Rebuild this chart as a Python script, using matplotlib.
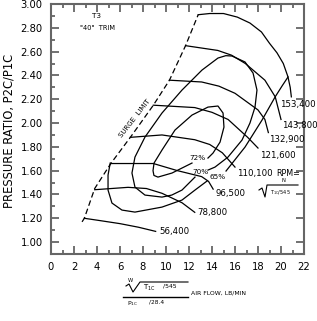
import matplotlib
matplotlib.use("Agg")
import matplotlib.pyplot as plt
import numpy as np

plt.rcParams['font.family'] = ['DejaVu Sans']

# ---------------- data ----------------
surge_x = [2.7, 2.9, 3.8, 5.2, 6.9, 8.9, 10.3, 11.7, 12.8]
surge_y = [1.17, 1.20, 1.45, 1.66, 1.88, 2.15, 2.36, 2.65, 2.91]

speed_labels = ["56,400", "78,800", "96,500", "110,100", "121,600",
                "132,900", "143,800", "153,400"]
speed_x = [
    [2.9, 4.3, 6.0, 7.6, 9.1],
    [3.8, 6.7, 8.3, 9.65, 11.4, 12.5],
    [5.2, 8.9, 11.0, 13.1, 13.7, 14.1],
    [6.9, 9.65, 12.5, 13.8, 14.9, 16.0],
    [8.9, 12.5, 14.0, 15.4, 17.1, 18.0],
    [10.3, 13.1, 14.6, 16.0, 18.0, 18.6, 18.9],
    [11.7, 14.5, 15.7, 16.9, 18.6, 19.5, 20.0],
    [12.8, 13.8, 15.0, 16.2, 17.3, 18.3, 19.0, 19.65, 20.2, 20.6, 20.8, 20.9],
]
speed_y = [
    [1.20, 1.18, 1.155, 1.125, 1.09],
    [1.44, 1.46, 1.45, 1.41, 1.33, 1.25],
    [1.66, 1.66, 1.60, 1.55, 1.51, 1.445],
    [1.88, 1.90, 1.86, 1.82, 1.75, 1.63],
    [2.15, 2.13, 2.09, 2.03, 1.88, 1.79],
    [2.36, 2.345, 2.31, 2.25, 2.11, 2.03, 1.92],
    [2.65, 2.61, 2.57, 2.50, 2.36, 2.22, 2.03],
    [2.91, 2.92, 2.92, 2.89, 2.84, 2.765, 2.67, 2.59, 2.50, 2.39, 2.30, 2.22],
]
speed_label_x = [9.4, 12.7, 14.3, 16.2, 18.2, 18.95, 20.1, 19.95]
speed_label_y = [1.09, 1.245, 1.41, 1.58, 1.73, 1.865, 1.98, 2.16]

eff_labels = ["72%", "70%", "65%"]
eff72_x = [12.26, 10.52, 9.30, 8.95, 8.87, 8.96, 9.65, 10.78, 12.26, 13.65, 14.52,
           14.96, 15.04, 14.70, 14.09, 13.65]
eff72_y = [1.664, 1.580, 1.546, 1.560, 1.600, 1.664, 1.773, 1.941, 2.067, 2.134, 2.143,
           2.084, 1.966, 1.840, 1.748, 1.706]
eff70_x = [12.52, 11.39, 10.5, 9.65, 8.17, 7.30, 7.04, 7.30, 8.17, 9.65, 11.39, 13.13,
           14.52, 15.2, 15.74, 16.87, 17.57, 17.91, 17.74, 17.30, 16.61, 15.39, 14.26, 13.65]
eff70_y = [1.546, 1.437, 1.395, 1.378, 1.395, 1.462, 1.580, 1.714, 1.882, 2.084, 2.277, 2.445,
           2.546, 2.566, 2.563, 2.513, 2.420, 2.277, 2.134, 2.000, 1.857, 1.714, 1.630, 1.605]
eff65a_x = [5.15, 4.96, 4.96, 5.30, 6.17, 7.30, 9.65, 11.39, 12.52, 13.57]
eff65a_y = [1.664, 1.563, 1.437, 1.328, 1.269, 1.252, 1.294, 1.353, 1.437, 1.513]
eff65b_x = [15.22, 16.87, 18.35, 19.48, 20.09, 20.61]
eff65b_y = [1.597, 1.798, 2.025, 2.218, 2.311, 2.387]
eff_label_x = [12.7, 12.96, 14.45]
eff_label_y = [1.706, 1.588, 1.546]

x_ticks = list(range(0, 23, 2))
y_ticks = [1.00, 1.20, 1.40, 1.60, 1.80, 2.00, 2.20, 2.40, 2.60, 2.80, 3.00]

# ---------------- figure ----------------
W, H = 317, 321
fig = plt.figure(figsize=(W / 100, H / 100), dpi=100)
L, R, T, B = 51, 304, 4, 254
ax = fig.add_axes([L / W, 1 - B / H, (R - L) / W, (B - T) / H])
ax.set_xlim(0, 22)
ax.set_ylim(0.9, 3.0)

lc = 'black'
lw = 0.9
ax.plot(surge_x, surge_y, color=lc, lw=lw, ls=(0, (4.5, 2.5)))
for xs, ys in zip(speed_x, speed_y):
    ax.plot(xs, ys, color=lc, lw=lw, solid_joinstyle='round')
for lab, lx, ly in zip(speed_labels, speed_label_x, speed_label_y):
    ax.text(lx, ly, lab, fontsize=6.2, ha='left', va='center', clip_on=False)

for xs, ys in [(eff72_x, eff72_y), (eff70_x, eff70_y),
               (eff65a_x, eff65a_y), (eff65b_x, eff65b_y)]:
    ax.plot(xs, ys, color=lc, lw=lw, solid_joinstyle='round')
for lab, lx, ly in zip(eff_labels, eff_label_x, eff_label_y):
    ax.text(lx, ly, lab, fontsize=5.2, ha='center', va='center')

# axes styling
sc = '#666666'
for s in ax.spines.values():
    s.set_color(sc)
    s.set_linewidth(1.5)
ax.set_xticks(x_ticks)
ax.set_xticks(np.arange(0, 23, 1), minor=True)
ax.set_yticks(y_ticks)
ax.set_yticks(np.arange(0.9, 3.01, 0.1), minor=True)
ax.set_xticklabels([str(v) for v in x_ticks])
ax.set_yticklabels([f"{v:.2f}" for v in y_ticks])
ax.tick_params(which='both', direction='in', top=True, right=True, color=sc,
               width=1.3, labelsize=7.2, labelcolor='black')
ax.tick_params(which='major', length=5.5, pad=6)
ax.tick_params(which='minor', length=3, right=False)

# ---------------- decorations in pixel space ----------------
ov = fig.add_axes([0, 0, 1, 1], facecolor='none')
ov.set_xlim(0, W)
ov.set_ylim(H, 0)
ov.axis('off')

ov.text(9, 131, "PRESSURE RATIO, P2C/P1C", rotation=90, ha='center', va='center',
        fontsize=8.3)
ov.text(97, 16, "T3", ha='center', va='center', fontsize=5.2)
ov.text(98, 28, '"40"  TRIM', ha='center', va='center', fontsize=4.8)
ov.text(135, 118, "SURGE  LIMIT", rotation=52, ha='center', va='center', fontsize=5.0)

# RPM = N / sqrt(T1C/545)
ov.text(276, 174, "RPM=", ha='left', va='center', fontsize=5.8)
ov.text(283, 180.5, "N", ha='center', va='center', fontsize=3.8)
ov.plot([259, 262, 265, 267, 298], [190, 188, 197, 185, 185], color='black', lw=0.8)
ov.text(270, 192.5, r"T$_{\mathregular{1C}}$/545", ha='left', va='center', fontsize=3.6)

# x label formula
ov.text(130, 280.5, "W", ha='center', va='center', fontsize=3.8)
ov.plot([126, 129, 133, 140, 188], [286, 284, 292, 282, 282], color='black', lw=0.8)
ov.text(143, 288, r"T$_{\mathregular{1C}}$", ha='left', va='center', fontsize=5.0)
ov.text(163, 286.5, "/545", ha='left', va='center', fontsize=4.4)
ov.plot([123, 188], [297, 297], color='black', lw=1.0)
ov.text(127, 303.5, r"P$_{\mathregular{1C}}$", ha='left', va='center', fontsize=4.4)
ov.text(149, 302, "/28.4", ha='left', va='center', fontsize=4.2)
ov.text(191, 293, "AIR FLOW, LB/MIN", ha='left', va='center', fontsize=4.4)

fig.savefig("out.png", dpi=100)
